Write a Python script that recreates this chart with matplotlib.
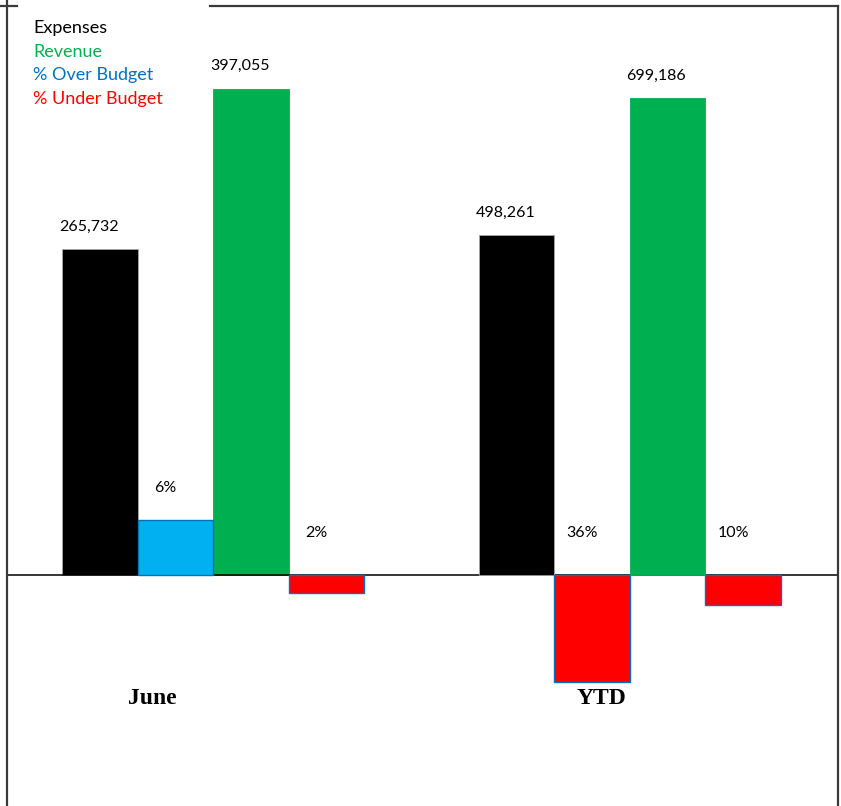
import matplotlib
matplotlib.use("Agg")
import matplotlib.pyplot as plt
from matplotlib.lines import Line2D
from matplotlib.patches import Patch
from matplotlib.transforms import blended_transform_factory

# ---- data -------------------------------------------------------------
groups = ["June", "YTD"]
expenses = [265732, 498261]
revenue = [397055, 699186]
expense_vs_budget_pct = [6, -36]     # + over budget, - under budget
revenue_vs_budget_pct = [-2, -10]

series_names = ["Expenses", "Revenue", "% Over Budget", "% Under Budget"]

# ---- style ------------------------------------------------------------
BLACK = "#000000"
GREEN = "#00B050"
SKY = "#00B0F0"
BLUE_TXT = "#0070C0"
RED = "#FF0000"
BORDER = "#3a3a3a"

plt.rcParams["font.family"] = ["Lato", "DejaVu Sans"]
W, H = 841, 806
fig = plt.figure(figsize=(W / 100, H / 100), dpi=100)
fig.patch.set_facecolor("white")

ZERO = 231 / H                      # share of the height below the zero line
dollar_span = [658000, 1182000]     # vertical extent of each group's dollar scale
pct_span = [88.6, 272.0]            # vertical extent of each group's percent scale
GROUP_STEP = 5.52                   # distance between group starts, in bar widths
XLIM = (-62 / 75.5, (W - 62) / 75.5)
group_label_shift = [1.2, 1.63]
LABEL_FS = 11.5
LEGEND_FS = 13


def make_axes(span):
    ax = fig.add_axes([0, 0, 1, 1])
    ax.set_axis_off()
    ax.patch.set_alpha(0)
    ax.set_xlim(*XLIM)
    ax.set_ylim(-ZERO * span, (1 - ZERO) * span)
    return ax


for g, name in enumerate(groups):
    axd = make_axes(dollar_span[g])
    axp = make_axes(pct_span[g])
    x0 = g * GROUP_STEP

    # dollar bars
    for slot, val, col, edge in ((0, expenses[g], BLACK, "#a6a6a6"),
                                 (2, revenue[g], GREEN, GREEN)):
        axd.bar(x0 + slot, val, width=1, align="edge", color=col,
                edgecolor=edge, linewidth=0.6, zorder=2)
        axd.annotate(f"{val:,}", xy=(x0 + slot + 0.5, val), xytext=(-8, 11),
                     textcoords="offset points", ha="center", va="bottom",
                     fontsize=LABEL_FS, color=BLACK)

    # percent bars
    for slot, val in ((1, expense_vs_budget_pct[g]), (3, revenue_vs_budget_pct[g])):
        col = SKY if val > 0 else RED
        axp.bar(x0 + slot, val, width=1, align="edge", color=col,
                edgecolor=BLUE_TXT, linewidth=1.0, zorder=2)
        anchor = max(val, 0)
        dy = 18 if val > 0 else 25
        axp.annotate(f"{abs(val)}%", xy=(x0 + slot + 0.5, anchor), xytext=(-7, dy),
                     textcoords="offset points", ha="center", va="bottom",
                     fontsize=LABEL_FS, color=BLACK)

    # group caption
    tr = blended_transform_factory(axd.transData, axd.transAxes)
    axd.text(x0 + group_label_shift[g], 108 / H, name, transform=tr,
             ha="center", va="center", fontsize=17, fontweight="bold",
             family=["Liberation Serif", "DejaVu Serif"], color=BLACK)

    if g == 0:
        axd.axhline(0, xmin=7 / W, xmax=838 / W, color=BLACK, lw=1.1, zorder=3)

# legend as coloured text entries
handles = [Patch(facecolor="none", edgecolor="none") for _ in series_names]
fig.legend(handles, series_names, loc="upper left",
           bbox_to_anchor=(33 / W, 1 - 20 / H), frameon=False,
           handlelength=0, handletextpad=0, borderpad=0, borderaxespad=0,
           labelspacing=0.42, fontsize=LEGEND_FS,
           labelcolor=[BLACK, GREEN, BLUE_TXT, RED])

# outer frame
lw = 1.6
fig.add_artist(Line2D([6.5 / W, 6.5 / W], [0, 1], transform=fig.transFigure,
                      color=BORDER, lw=lw))
top = 1 - 6 / H
fig.add_artist(Line2D([0, 17 / W], [top, top], transform=fig.transFigure,
                      color=BORDER, lw=lw))
fig.add_artist(Line2D([210 / W, 838 / W], [top, top], transform=fig.transFigure,
                      color=BORDER, lw=lw))
fig.add_artist(Line2D([838 / W, 838 / W], [0, top], transform=fig.transFigure,
                      color=BORDER, lw=lw))

fig.savefig("out.png", dpi=100)
